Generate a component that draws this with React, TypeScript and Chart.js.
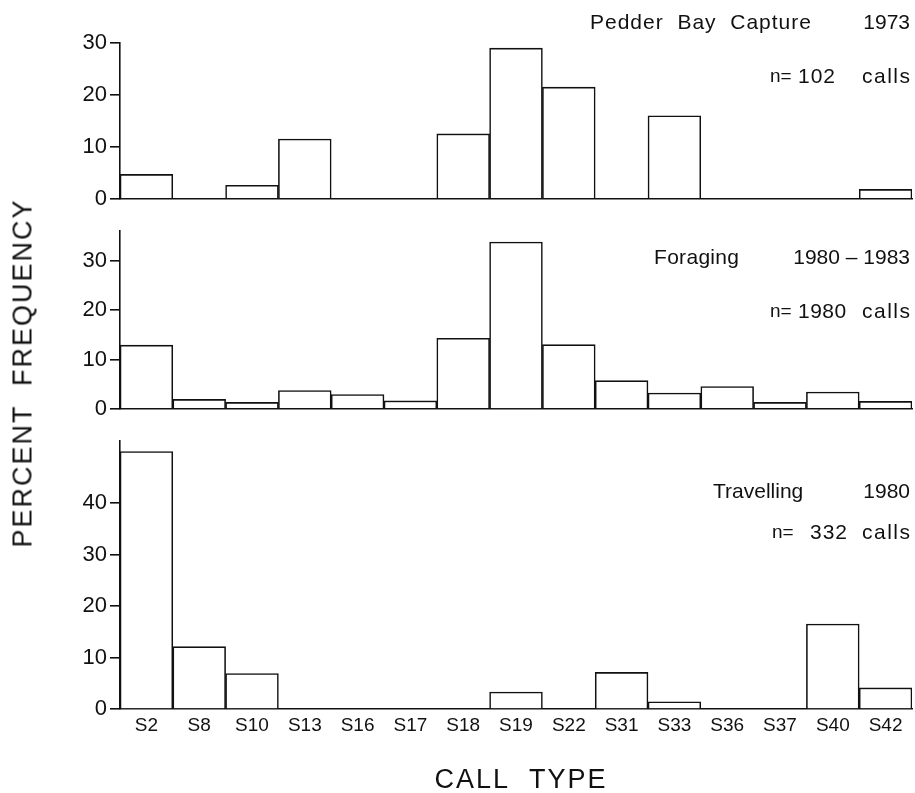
import React, { useEffect, useRef } from 'react';
import { Chart, registerables } from 'chart.js';

Chart.register(...registerables);

// ---------- data ----------
const categories = ['S2', 'S8', 'S10', 'S13', 'S16', 'S17', 'S18', 'S19', 'S22', 'S31', 'S33', 'S36', 'S37', 'S40', 'S42'];
const pedderBay = [4.7, 0, 2.6, 11.5, 0, 0, 12.5, 29.0, 21.5, 0, 16.0, 0, 0, 0, 1.8];
const foraging = [12.9, 1.9, 1.3, 3.7, 2.9, 1.6, 14.3, 33.8, 13.0, 5.7, 3.2, 4.5, 1.3, 3.4, 1.5];
const travelling = [50.0, 12.1, 6.9, 0, 0, 0, 0, 3.3, 0, 7.1, 1.4, 0, 0, 16.5, 4.1];

const pedderTicks = [0, 10, 20, 30];
const foragingTicks = [0, 10, 20, 30];
const travellingTicks = [0, 10, 20, 30, 40];

const pedderMax = 30;
const foragingMax = 36;
const travellingMax = 52;

const yAxisTitle = 'PERCENT  FREQUENCY';
const xAxisTitle = 'CALL  TYPE';

const FONT = '"Liberation Sans", Arial, Helvetica, sans-serif';

type Txt = { text: string; x: number; y: number; align: CanvasTextAlign; size: number; spacing: number };

const textPlugin = {
  id: 'panelText',
  afterDraw(chart: any, _args: any, opts: any) {
    const ctx = chart.ctx as CanvasRenderingContext2D;
    ctx.save();
    ctx.fillStyle = '#111';
    ctx.textBaseline = 'middle';
    for (const t of (opts.items || []) as Txt[]) {
      ctx.font = `${t.size}px ${FONT}`;
      (ctx as any).letterSpacing = `${t.spacing}px`;
      ctx.textAlign = t.align;
      const dx = t.align === 'right' ? t.spacing : 0;
      ctx.fillText(t.text, t.x + dx, t.y);
    }
    ctx.restore();
  },
};

function buildChart(
  canvas: HTMLCanvasElement,
  values: number[],
  ticks: number[],
  max: number,
  padTop: number,
  padBottom: number,
  showX: boolean,
  texts: Txt[]
) {
  return new Chart(canvas, {
    type: 'bar',
    data: {
      labels: categories,
      datasets: [
        {
          data: values,
          backgroundColor: '#ffffff',
          borderColor: '#111',
          borderWidth: 1.6,
          barPercentage: 1,
          categoryPercentage: 1,
        },
      ],
    },
    options: {
      responsive: false,
      animation: false,
      devicePixelRatio: 1,
      layout: { padding: { left: 0, right: 3, top: padTop, bottom: padBottom } },
      plugins: {
        legend: { display: false },
        tooltip: { enabled: false },
        panelText: { items: texts },
      } as any,
      scales: {
        x: {
          grid: { display: true, drawOnChartArea: false, drawTicks: false },
          border: { display: true, color: '#111', width: 1.6 },
          ticks: {
            display: showX,
            color: '#111',
            font: { size: 19, family: FONT },
            padding: 5,
            maxRotation: 0,
            autoSkip: false,
          },
          afterFit: (s: any) => {
            s.height = showX ? 84 : 0;
          },
        },
        y: {
          min: 0,
          max,
          afterBuildTicks: (s: any) => {
            s.ticks = ticks.map((v) => ({ value: v }));
          },
          grid: { display: true, drawOnChartArea: false, drawTicks: true, tickLength: 10, color: '#111', lineWidth: 1.6 },
          border: { display: true, color: '#111', width: 1.6 },
          ticks: { color: '#111', font: { size: 22, family: FONT }, padding: 3 },
          afterFit: (s: any) => {
            s.width = 120;
          },
        },
      },
    } as any,
    plugins: [textPlugin as any],
  });
}

export default function App() {
  const c1 = useRef<HTMLCanvasElement>(null);
  const c2 = useRef<HTMLCanvasElement>(null);
  const c3 = useRef<HTMLCanvasElement>(null);

  useEffect(() => {
    const ch1 = buildChart(c1.current!, pedderBay, pedderTicks, pedderMax, 43, 13, false, [
      { text: 'Pedder  Bay  Capture', x: 590, y: 23, align: 'left', size: 21, spacing: 1 },
      { text: '1973', x: 910, y: 23, align: 'right', size: 21, spacing: 0 },
      { text: 'n=', x: 770, y: 77, align: 'left', size: 19, spacing: 0 },
      { text: '102', x: 798, y: 77, align: 'left', size: 21, spacing: 1 },
      { text: 'calls', x: 910, y: 77, align: 'right', size: 21, spacing: 1.5 },
    ]);
    const ch2 = buildChart(c2.current!, foraging, foragingTicks, foragingMax, 8, 11, false, [
      { text: 'Foraging', x: 654, y: 43, align: 'left', size: 21, spacing: 0.3 },
      { text: '1980 – 1983', x: 910, y: 43, align: 'right', size: 21, spacing: 0 },
      { text: 'n=', x: 770, y: 97, align: 'left', size: 19, spacing: 0 },
      { text: '1980', x: 798, y: 97, align: 'left', size: 21, spacing: 0.5 },
      { text: 'calls', x: 910, y: 97, align: 'right', size: 21, spacing: 1.5 },
    ]);
    const ch3 = buildChart(c3.current!, travelling, travellingTicks, travellingMax, 10, 0, true, [
      { text: 'Travelling', x: 713, y: 67, align: 'left', size: 21, spacing: 0 },
      { text: '1980', x: 910, y: 67, align: 'right', size: 21, spacing: 0 },
      { text: 'n=', x: 772, y: 108, align: 'left', size: 19, spacing: 0 },
      { text: '332', x: 810, y: 108, align: 'left', size: 21, spacing: 1 },
      { text: 'calls', x: 910, y: 108, align: 'right', size: 21, spacing: 1.5 },
      { text: xAxisTitle, x: 521, y: 356, align: 'center', size: 27, spacing: 2 },
    ]);
    return () => {
      ch1.destroy();
      ch2.destroy();
      ch3.destroy();
    };
  }, []);

  const abs = (top: number): React.CSSProperties => ({ position: 'absolute', left: 0, top });

  return (
    <div style={{ position: 'fixed', left: 0, top: 0, width: 915, height: 793, background: '#fff', overflow: 'hidden' }}>
      <canvas ref={c1} width={915} height={215} style={abs(0)} />
      <canvas ref={c2} width={915} height={210} style={abs(215)} />
      <canvas ref={c3} width={915} height={368} style={abs(425)} />
      <div
        style={{
          position: 'absolute',
          left: 23,
          top: 373,
          transform: 'translate(-50%, -50%) rotate(-90deg)',
          fontFamily: FONT,
          fontSize: 27,
          letterSpacing: 2,
          whiteSpace: 'pre',
          color: '#111',
          lineHeight: 1,
        }}
      >
        {yAxisTitle}
      </div>
    </div>
  );
}
